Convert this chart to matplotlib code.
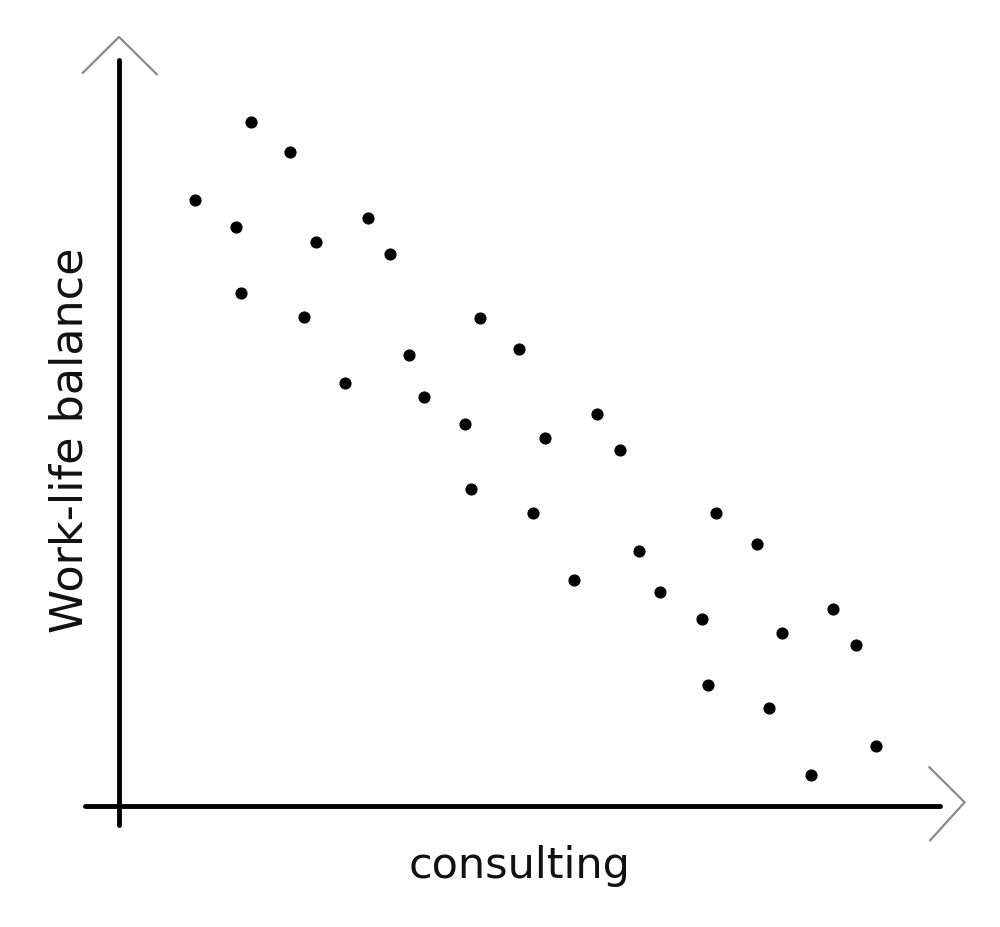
import matplotlib
matplotlib.use("Agg")
import matplotlib.pyplot as plt

# Data (arbitrary units, 0-100)
consulting = [16.1, 20.8, 9.3, 14.3, 24.0, 30.3, 33.0, 14.9, 22.5, 44.0, 48.7,
              35.3, 27.5, 37.1, 42.1, 51.9, 58.2, 61.0, 42.9, 50.4, 72.7, 77.7,
              63.3, 55.4, 65.9, 71.0, 87.0, 80.8, 89.8, 71.7, 79.2, 92.2, 84.3]
work_life = [91.7, 87.7, 81.2, 77.6, 75.6, 78.8, 74.0, 68.8, 65.5, 65.4, 61.3,
             60.5, 56.7, 54.8, 51.2, 49.3, 52.5, 47.7, 42.5, 39.3, 39.3, 35.1,
             34.2, 30.3, 28.7, 25.1, 26.4, 23.2, 21.6, 16.2, 13.1, 8.0, 4.2]
x_label = "consulting"
y_label = "Work-life balance"

fig = plt.figure(figsize=(10, 9.27), dpi=100)
ax = fig.add_axes([0.119, 0.1305, 0.821, 0.8047])
ax.set_xlim(0, 100)
ax.set_ylim(0, 100)
ax.axis("off")

ax.scatter(consulting, work_life, s=60, color="black", zorder=3, clip_on=False)

# axes lines
ax.plot([0, 0], [-2.5, 100], color="black", lw=3.5, clip_on=False, solid_capstyle="round")
ax.plot([-4.1, 100], [0, 0], color="black", lw=3.5, clip_on=False, solid_capstyle="round")
# arrowheads
ax.plot([-4.4, 0, 4.6], [98.3, 103.1, 98.1], color="#8a8a8a", lw=1.6, clip_on=False)
ax.plot([98.7, 103.0, 98.8], [5.2, 0.5, -4.6], color="#8a8a8a", lw=1.6, clip_on=False)

fig.text(0.52, 1 - 866 / 927, x_label, ha="center", va="center", fontsize=31,
         family="DejaVu Sans", color="#111111")
fig.text(0.07, 1 - 440 / 927, y_label, ha="center", va="center", fontsize=32,
         rotation=90, family="DejaVu Sans", color="#111111")

fig.savefig("out.png", dpi=100)
